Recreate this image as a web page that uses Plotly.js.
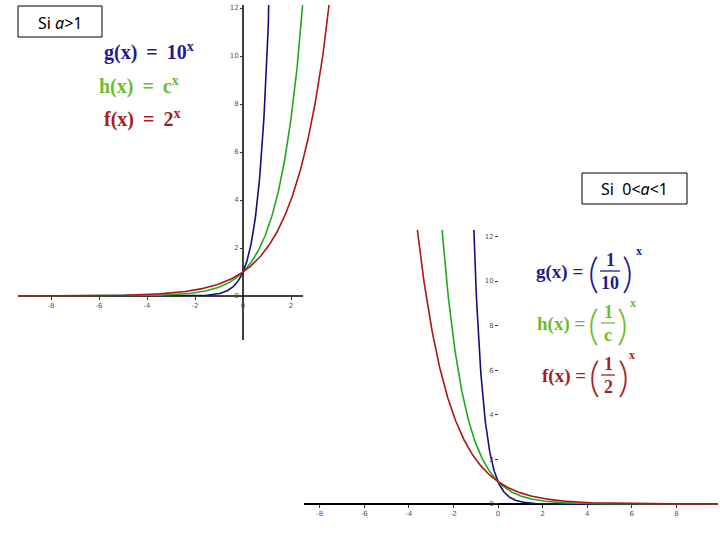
<!DOCTYPE html>
<html>
<head>
<meta charset="utf-8">
<script src="https://cdn.plot.ly/plotly-3.0.1.min.js"></script>
<style>html,body{margin:0;padding:0;background:#fff;}#chart{width:720px;height:540px;}</style>
</head>
<body>
<div id="chart"></div>
<script>
// ---- data ----
const seriesNames = ["g(x) = 10^x", "h(x) = e^x", "f(x) = 2^x"];
const basesGrowth = [10, Math.E, 2];          // a > 1
const basesDecay = [1 / 10, 1 / Math.E, 1 / 2]; // 0 < a < 1
const curveColors = ["#10107e", "#22a822", "#b01414"];
const textColors = ["#1c1c8c", "#6cbd2c", "#a81c1c"];
const xTopTicks = [-8, -6, -4, -2, 0, 2];
const yTopTicks = [0, 2, 4, 6, 8, 10, 12];
const xBotTicks = [-8, -6, -4, -2, 0, 2, 4, 6, 8];
const yBotTicks = [0, 2, 4, 6, 8, 10, 12];

function samples(a, b, step) { const out = []; for (let v = a; v <= b + 1e-9; v += step) out.push(+v.toFixed(4)); return out; }
const xTop = samples(-9.4, 3.9, 0.02);
const xBot = samples(-8.8, 9.9, 0.02);

const px = x => x / 720;
const py = y => 1 - y / 540;

const traces = [];
basesGrowth.forEach((b, i) => {
  traces.push({ x: xTop, y: xTop.map(v => Math.pow(b, v)), type: "scatter", mode: "lines",
    name: seriesNames[i], line: { color: curveColors[i], width: 1.6 }, xaxis: "x", yaxis: "y", hoverinfo: "skip" });
});
basesDecay.forEach((b, i) => {
  traces.push({ x: xBot, y: xBot.map(v => Math.pow(b, v)), type: "scatter", mode: "lines",
    name: seriesNames[i], line: { color: curveColors[i], width: 1.6 }, xaxis: "x2", yaxis: "y2", hoverinfo: "skip" });
});

const tickFont = { family: "DejaVu Sans", size: 7, color: "#555" };
const baseAxis = { showgrid: false, zeroline: false, showline: false, ticks: "outside", ticklen: 3, tickwidth: 1, tickcolor: "#333", tickfont: tickFont, fixedrange: true };

const annotations = [];
const shapes = [];
function txt(x, y, text, size, color, opts) {
  annotations.push(Object.assign({ xref: "paper", yref: "paper", x: px(x), y: py(y), text: text, showarrow: false,
    xanchor: "center", yanchor: "middle",
    font: { family: "Liberation Serif", size: size, color: color, weight: "bold" } }, opts || {}));
}
// boxes
shapes.push({ type: "rect", xref: "paper", yref: "paper", x0: px(18), x1: px(102), y0: py(37), y1: py(6), line: { color: "#000", width: 1 } });
shapes.push({ type: "rect", xref: "paper", yref: "paper", x0: px(582), x1: px(687), y0: py(204), y1: py(173), line: { color: "#000", width: 1 } });
txt(60, 23, "Si <i>a</i>&gt;1", 16, "#000", { font: { family: "Noto Sans", size: 16, color: "#000" } });
txt(634, 189, "Si  0&lt;<i>a</i>&lt;1", 16, "#000", { font: { family: "Noto Sans", size: 16, color: "#000" } });

// top equations
txt(102, 51, "g(x) &#8201;= &#8201;10<sup>x</sup>", 20, textColors[0], { xanchor: "left" });
txt(97, 86, "h(x) &#8201;= &#8201;c<sup>x</sup>", 20, textColors[1], { xanchor: "left" });
txt(102, 118, "f(x) &#8201;= &#8201;2<sup>x</sup>", 20, textColors[2], { xanchor: "left" });

// bottom equations (fractions)
const fracRows = [
  { y: 272, lab: "g(x) =", lx: 534, num: "1", den: "10", lp: 593, cx: 610, rp: 627, sx: 639, lw: 10 },
  { y: 324, lab: "h(x) =", lx: 535, num: "1", den: "c", lp: 593, cx: 608, rp: 622, sx: 633, lw: 7 },
  { y: 376, lab: "f(x) =", lx: 540, num: "1", den: "2", lp: 594, cx: 608, rp: 623, sx: 632, lw: 7 }
];
fracRows.forEach((r, i) => {
  const c = textColors[i];
  txt(r.lx, r.y, r.lab, 19, c, { xanchor: "left" });
  txt(r.lp, r.y, "(", 42, c, { font: { family: "Lato", size: 42, color: c, weight: 300 } });
  txt(r.rp, r.y, ")", 42, c, { font: { family: "Lato", size: 42, color: c, weight: 300 } });
  txt(r.cx, r.y - 12, r.num, 18, c);
  txt(r.cx, r.y + 11, r.den, 18, c);
  txt(r.sx, r.y - 21, "x", 12, c);
  shapes.push({ type: "line", xref: "paper", yref: "paper", x0: px(r.cx - r.lw), x1: px(r.cx + r.lw), y0: py(r.y - 1), y1: py(r.y - 1), line: { color: c, width: 1.3 } });
});

// axis lines (drawn under curves)
shapes.push({ type: "line", xref: "x", yref: "y", x0: -9.375, x1: 2.5, y0: 0, y1: 0, layer: "below", line: { color: "#000", width: 1.5 } });
shapes.push({ type: "line", xref: "x", yref: "y", x0: 0, x1: 0, y0: -1.833, y1: 12.125, layer: "below", line: { color: "#000", width: 1.5 } });
shapes.push({ type: "line", xref: "x2", yref: "y2", x0: -8.7, x1: 9.87, y0: 0, y1: 0, layer: "below", line: { color: "#000", width: 2 } });

const layout = {
  width: 720, height: 540,
  margin: { l: 0, r: 0, t: 0, b: 0, pad: 0 },
  paper_bgcolor: "#fff", plot_bgcolor: "rgba(0,0,0,0)",
  showlegend: false,
  xaxis: Object.assign({}, baseAxis, { domain: [px(18), px(336)], range: [-9.375, 3.875], anchor: "free", position: py(296), tickvals: xTopTicks, ticktext: xTopTicks.map(String) }),
  yaxis: Object.assign({}, baseAxis, { domain: [py(340), py(5)], range: [-1.833, 12.125], anchor: "free", position: px(243), tickvals: yTopTicks, ticktext: yTopTicks.map(String) }),
  xaxis2: Object.assign({}, baseAxis, { domain: [px(304), px(718)], range: [-8.7, 9.865], anchor: "free", position: py(504), tickvals: xBotTicks, ticktext: xBotTicks.map(String) }),
  yaxis2: Object.assign({}, baseAxis, { domain: [py(522), py(230)], range: [-0.81, 12.29], anchor: "free", position: px(498), tickvals: yBotTicks, ticktext: yBotTicks.map(String) }),
  shapes: shapes,
  annotations: annotations
};

Plotly.newPlot("chart", traces, layout, { staticPlot: true, displayModeBar: false });
</script>
</body>
</html>
